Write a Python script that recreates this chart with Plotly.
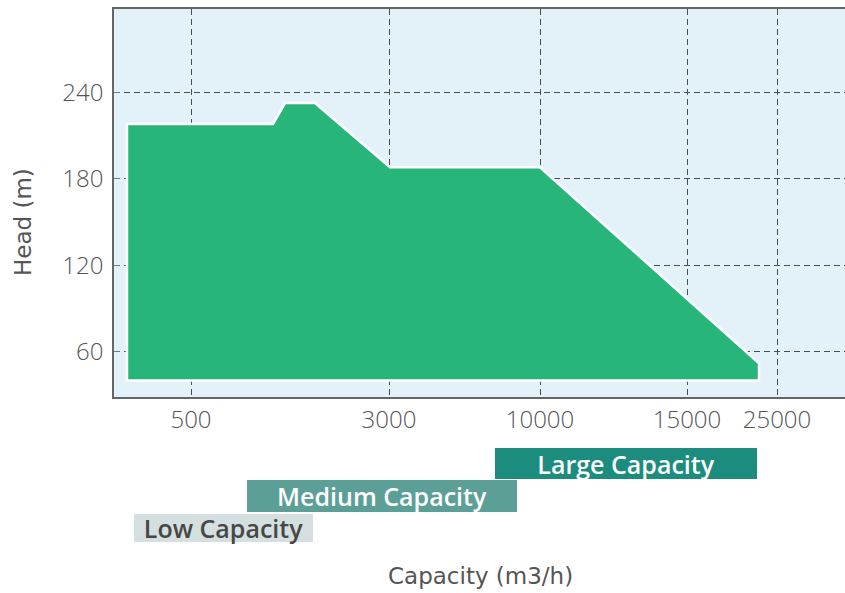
import plotly.graph_objects as go

# ---- data (x in chart position units, y in metres of head) ----
tick_pos = [77, 275, 426, 573, 663]
tick_labels = ["500", "3000", "10000", "15000", "25000"]

head_ticks = [60, 120, 180, 240]

envelope_x = [13, 13, 159, 171, 201, 276, 426, 645, 645, 13]
envelope_y = [40, 218, 218, 232.5, 232.5, 188, 188, 52, 40, 40]

band_names = ["Low Capacity", "Medium Capacity", "Large Capacity"]
band_start = [20, 133, 381]
band_end = [199, 403, 643]
band_colors = ["#d4e0e0", "#5b9f97", "#1b8c7d"]
band_text_colors = ["#474747", "#ffffff", "#ffffff"]
band_widths = [0.87, 0.99, 0.96]

W, H = 845, 593
ML, MR, MT, MB = 114, 0, 9, 40
PW = W - ML - MR            # 731
PT = MT
PB = H - MB
PH = PB - PT

def py(px):
    return (PB - px) / PH

def pxp(x):
    return (x - ML) / PW

# y scale: 240 at y 92.3 px, 60 at 351.7 px
k = (351.7 - 92.3) / 180.0
def yval(px):
    return 240 + (92.3 - px) / k

FONT = "Open Sans"
TFONT = "DejaVu Sans"
GRAY = "#555555"

fig = go.Figure()

fig.add_trace(go.Scatter(
    x=envelope_x, y=envelope_y, mode="lines", fill="toself",
    fillcolor="#27b57a", line=dict(color="white", width=2.5),
    hoverinfo="skip", showlegend=False, xaxis="x", yaxis="y"))

fig.add_trace(go.Bar(
    y=band_names, x=[e - s for s, e in zip(band_start, band_end)], base=band_start,
    orientation="h", width=band_widths,
    marker=dict(color=band_colors, line=dict(width=0)),
    text=band_names, textposition="inside", insidetextanchor="middle",
    constraintext="none",
    textfont=dict(family=FONT, size=25, color=band_text_colors, weight=600),
    showlegend=False, hoverinfo="skip", xaxis="x2", yaxis="y2"))

fig.update_layout(
    width=W, height=H,
    margin=dict(l=ML, r=MR, t=MT, b=MB),
    paper_bgcolor="white", plot_bgcolor="white",
    font=dict(family=FONT, color=GRAY),
    xaxis=dict(domain=[0, 1], anchor="y", range=[0, PW],
               tickmode="array", tickvals=tick_pos, ticktext=tick_labels,
               tickfont=dict(size=24, color=GRAY, weight=300),
               showgrid=True, gridcolor="#4d4d4d", griddash="6px,4px", gridwidth=1,
               showline=True, linecolor="#666666", linewidth=1.5, mirror=True,
               ticks="", zeroline=False),
    yaxis=dict(domain=[py(397), 1], anchor="x", range=[yval(397), yval(PT)],
               tickmode="array", tickvals=head_ticks,
               tickfont=dict(size=24, color=GRAY, weight=300),
               ticklabelstandoff=4,
               showgrid=True, gridcolor="#4d4d4d", griddash="6px,4px", gridwidth=1,
               showline=True, linecolor="#666666", linewidth=1.5,
               ticks="inside", ticklen=6, tickcolor="#777777", zeroline=False),
    xaxis2=dict(domain=[0, 1], anchor="y2", matches="x", visible=False, showgrid=False),
    yaxis2=dict(domain=[py(544), py(447)], anchor="x2", type="category",
                categoryorder="array", categoryarray=band_names,
                range=[-0.5, 2.5], visible=False, showgrid=False),
    bargap=0,
    shapes=[dict(type="rect", xref="x domain", yref="y domain", x0=0, x1=1, y0=0, y1=1,
                 fillcolor="#e3f2f8", line=dict(width=0), layer="below")],
    annotations=[
        dict(text="Capacity (m3/h)", xref="paper", yref="paper", x=pxp(481), y=py(576),
             xanchor="center", yanchor="middle", showarrow=False,
             font=dict(family=TFONT, size=23, color=GRAY)),
        dict(text="Head (m)", xref="paper", yref="paper", x=pxp(23), y=py(222),
             xanchor="center", yanchor="middle", showarrow=False, textangle=-90,
             font=dict(family=TFONT, size=23, color=GRAY)),
    ],
)

fig.write_html(
    "out.html",
    config={"displayModeBar": False},
    post_script="document.body.style.margin='0';document.body.style.overflow='hidden';",
)
